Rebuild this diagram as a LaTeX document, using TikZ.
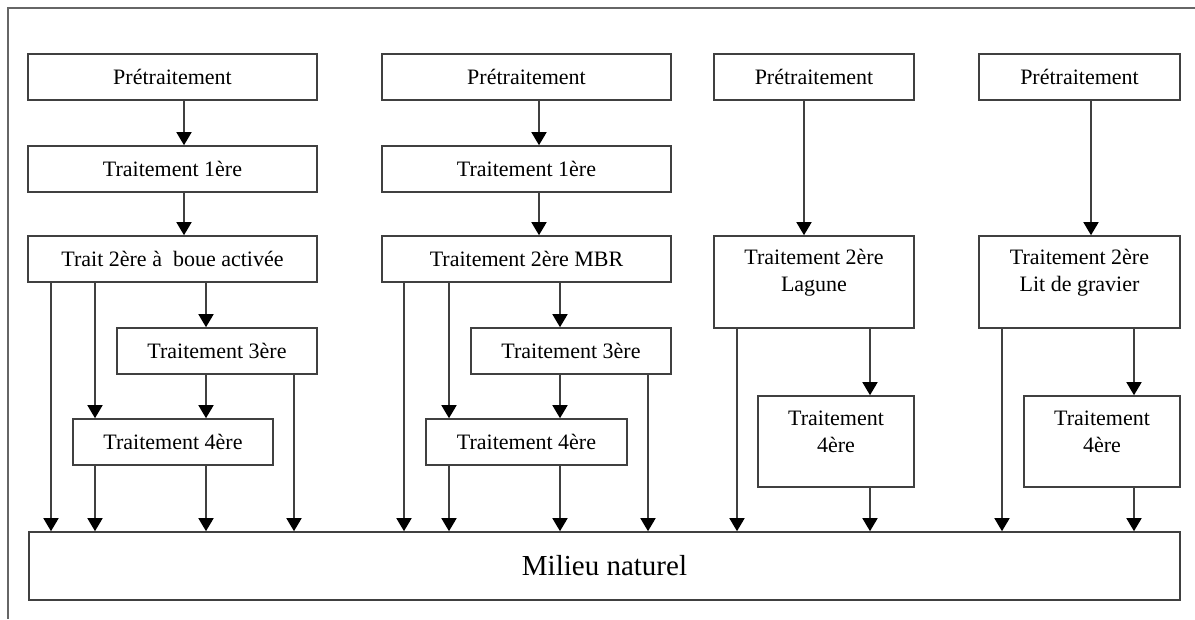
\documentclass[tikz,border=0pt]{standalone}
\usepackage{fontspec}
\setmainfont{Liberation Serif}
\usetikzlibrary{arrows.meta}
\begin{document}
\begin{tikzpicture}[x=1pt,y=-1pt,
  box/.style={draw=black!75, line width=1.6pt, inner sep=0pt, minimum height=46pt,
    font=\fontsize{22}{27}\selectfont, align=center},
  tall/.style={box, minimum height=92pt},
  lbl/.style={inner sep=0pt, font=\fontsize{22}{27}\selectfont, align=center},
  arr/.style={draw=black!75, line width=1.6pt, -{Triangle[width=15pt,length=13pt,fill=black,color=black]}},
]
\useasboundingbox (0,0) rectangle (1195,619);
\draw[black!60, line width=1.4pt] (1195,8) -- (8,8) -- (8,619);

% column 1
\node[box, minimum width=289pt] (p1) at (172.5,77) {Prétraitement};
\node[box, minimum width=289pt] (a1) at (172.5,169) {Traitement 1ère};
\node[box, minimum width=289pt] (s1) at (172.5,259) {Trait 2ère à\ \ boue activée};
\node[box, minimum width=200pt] (th1) at (217,351) {Traitement 3ère};
\node[box, minimum width=200pt] (q1) at (173,442) {Traitement 4ère};

% column 2
\node[box, minimum width=289pt] (p2) at (526.5,77) {Prétraitement};
\node[box, minimum width=289pt] (a2) at (526.5,169) {Traitement 1ère};
\node[box, minimum width=289pt] (s2) at (526.5,259) {Traitement 2ère MBR};
\node[box, minimum width=200pt] (th2) at (571,351) {Traitement 3ère};
\node[box, minimum width=201pt] (q2) at (526.5,442) {Traitement 4ère};

% column 3
\node[box, minimum width=200pt] (p3) at (814,77) {Prétraitement};
\node[tall, minimum width=200pt] (s3) at (814,282) {};
\node[lbl] (s3t) at ([yshift=-37.5pt]s3.north) {Traitement 2ère\\Lagune};
\node[tall, minimum width=156pt, minimum height=91pt] (q3) at (836,441.5) {};
\node[lbl] (q3t) at ([yshift=-36.5pt]q3.north) {Traitement\\4ère};

% column 4
\node[box, minimum width=201pt] (p4) at (1079.5,77) {Prétraitement};
\node[tall, minimum width=201pt] (s4) at (1079.5,282) {};
\node[lbl] (s4t) at ([yshift=-37.5pt]s4.north) {Traitement 2ère\\Lit de gravier};
\node[tall, minimum width=156pt, minimum height=91pt] (q4) at (1102,441.5) {};
\node[lbl] (q4t) at ([yshift=-36.5pt]q4.north) {Traitement\\4ère};

% milieu
\node[box, minimum width=1151pt, minimum height=68pt, font=\fontsize{29}{33}\selectfont] (m) at (604.5,566) {Milieu naturel};

% x positions of connectors
\coordinate (x1t) at (184,0);
\coordinate (x1a) at (51,0);
\coordinate (x1b) at (95,0);
\coordinate (x1c) at (206,0);
\coordinate (x1d) at (294,0);
\coordinate (x2t) at (539,0);
\coordinate (x2a) at (404,0);
\coordinate (x2b) at (449,0);
\coordinate (x2c) at (560,0);
\coordinate (x2d) at (648,0);
\coordinate (x3t) at (804,0);
\coordinate (x3a) at (737,0);
\coordinate (x3b) at (870,0);
\coordinate (x4t) at (1091,0);
\coordinate (x4a) at (1002,0);
\coordinate (x4b) at (1134,0);

% column 1 connectors
\draw[arr] (p1.south -| x1t) -- (a1.north -| x1t);
\draw[arr] (a1.south -| x1t) -- (s1.north -| x1t);
\draw[arr] (s1.south -| x1a) -- (m.north -| x1a);
\draw[arr] (s1.south -| x1b) -- (q1.north -| x1b);
\draw[arr] (q1.south -| x1b) -- (m.north -| x1b);
\draw[arr] (s1.south -| x1c) -- (th1.north -| x1c);
\draw[arr] (th1.south -| x1c) -- (q1.north -| x1c);
\draw[arr] (q1.south -| x1c) -- (m.north -| x1c);
\draw[arr] (th1.south -| x1d) -- (m.north -| x1d);

% column 2 connectors
\draw[arr] (p2.south -| x2t) -- (a2.north -| x2t);
\draw[arr] (a2.south -| x2t) -- (s2.north -| x2t);
\draw[arr] (s2.south -| x2a) -- (m.north -| x2a);
\draw[arr] (s2.south -| x2b) -- (q2.north -| x2b);
\draw[arr] (q2.south -| x2b) -- (m.north -| x2b);
\draw[arr] (s2.south -| x2c) -- (th2.north -| x2c);
\draw[arr] (th2.south -| x2c) -- (q2.north -| x2c);
\draw[arr] (q2.south -| x2c) -- (m.north -| x2c);
\draw[arr] (th2.south -| x2d) -- (m.north -| x2d);

% column 3 connectors
\draw[arr] (p3.south -| x3t) -- (s3.north -| x3t);
\draw[arr] (s3.south -| x3a) -- (m.north -| x3a);
\draw[arr] (s3.south -| x3b) -- (q3.north -| x3b);
\draw[arr] (q3.south -| x3b) -- (m.north -| x3b);

% column 4 connectors
\draw[arr] (p4.south -| x4t) -- (s4.north -| x4t);
\draw[arr] (s4.south -| x4a) -- (m.north -| x4a);
\draw[arr] (s4.south -| x4b) -- (q4.north -| x4b);
\draw[arr] (q4.south -| x4b) -- (m.north -| x4b);
\end{tikzpicture}
\end{document}
